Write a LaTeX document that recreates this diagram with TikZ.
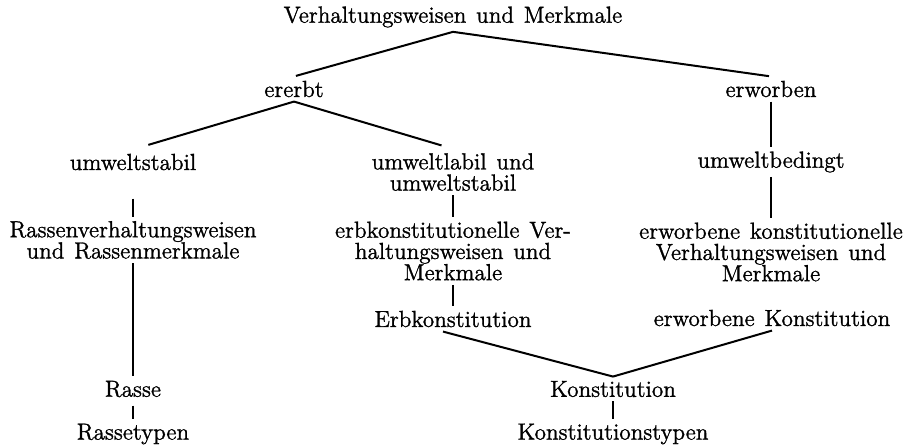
\documentclass[tikz,border=0pt]{standalone}
\usepackage{fontspec}
\newfontfamily\lblfont{Latin Modern Roman}[FakeBold=1.2,WordSpace=1.3]
\begin{document}
\begin{tikzpicture}[x=0.5pt,y=-0.5pt,
  lbl/.style={shape=rectangle,inner sep=2pt,align=center,font=\lblfont\fontsize{11.6}{10.6}\selectfont},
  lnk/.style={line width=1pt}]
\useasboundingbox (0,0) rectangle (910,447);
\node[lbl](VM) at (453,17){Verhaltungsweisen und Merkmale};
\node[lbl](ER) at (294,89){ererbt};
\node[lbl](EW) at (771,89){erworben};
\node[lbl](US) at (133,162){umweltstabil};
\node[lbl](UL) at (453,172){umweltlabil und\\umweltstabil};
\node[lbl](UB) at (771,162){umweltbedingt};
\node[lbl](RV) at (133,240){Rassenverhaltungsweisen\\und Rassenmerkmale};
\node[lbl](EKV) at (453,251){erbkonstitutionelle Ver-\\haltungsweisen und\\Merkmale};
\node[lbl](WKV) at (771,252){erworbene konstitutionelle\\Verhaltungsweisen und\\Merkmale};
\node[lbl](EK) at (453,319){Erbkonstitution};
\node[lbl](WK) at (772,318){erworbene Konstitution};
\node[lbl](RA) at (133,389){Rasse};
\node[lbl](KO) at (613,389){Konstitution};
\node[lbl](RT) at (133,434){Rassetypen};
\node[lbl](KT) at (613,434){Konstitutionstypen};
\draw[lnk,shorten >=1pt] (VM.south) -- (ER.north);
\draw[lnk,shorten >=1pt] (VM.south) -- (EW.north);
\draw[lnk,shorten >=8pt] (ER.south) -- (US.north);
\draw[lnk,shorten >=6pt] (ER.south) -- (UL.north);
\draw[lnk] (EW.south) -- (UB.north);
\draw[lnk] (UB.south) -- (WKV.north);
\draw[lnk,shorten <=12pt] (US.south) -- (RV.north);
\draw[lnk] (UL.south) -- (EKV.north);
\draw[lnk] (RV.south) -- (RA.north);
\draw[lnk,shorten <=2pt] (RA.south) -- (RT.north);
\draw[lnk] (EKV.south) -- (EK.north);
\draw[lnk] ([xshift=-5pt]EK.south) -- (KO.north);
\draw[lnk] (WK.south) -- (KO.north);
\draw[lnk] (KO.south) -- (KT.north);
\end{tikzpicture}
\end{document}
